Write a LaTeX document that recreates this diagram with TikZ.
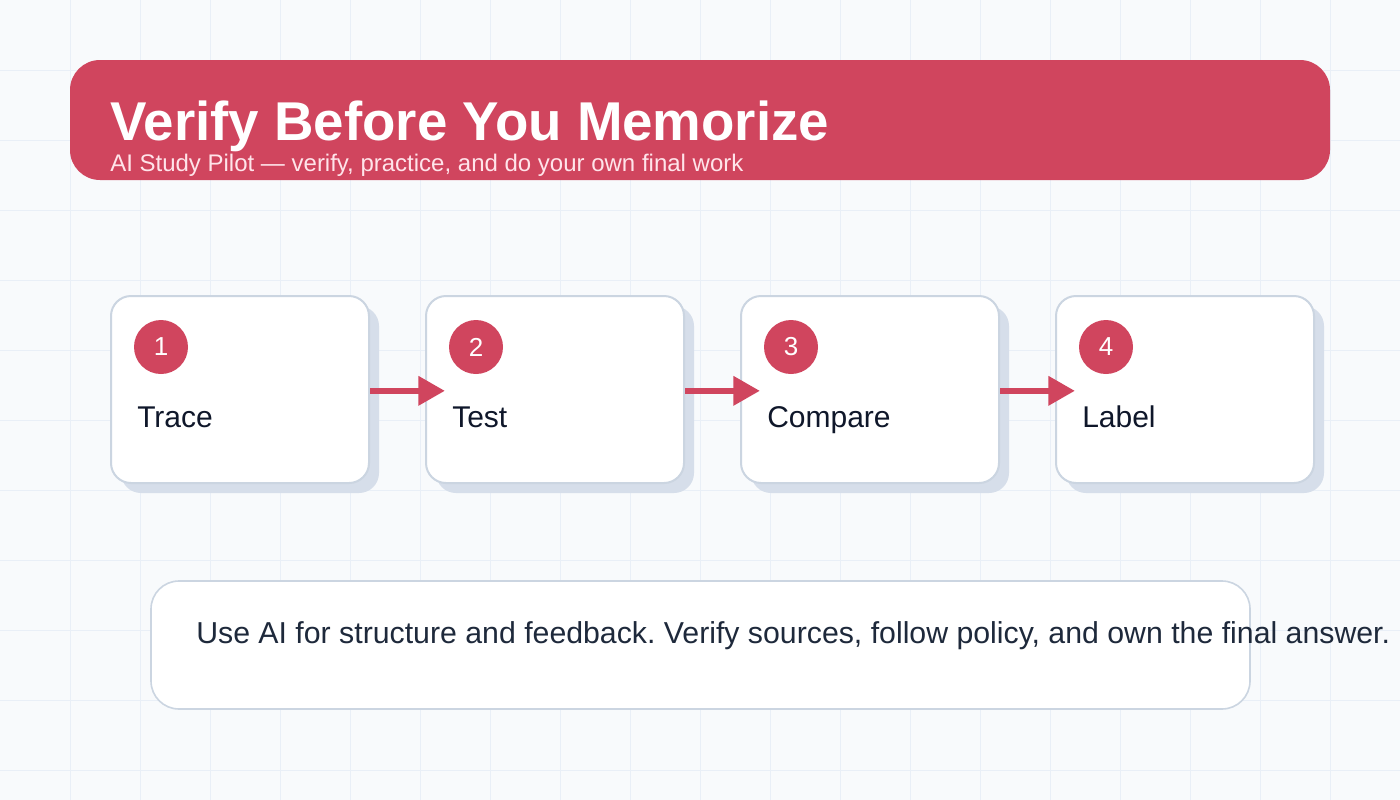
\documentclass[tikz,border=0pt]{standalone}
\usepackage{fontspec}
\usepackage{xcolor}
\usepackage{tikz}
\usetikzlibrary{arrows.meta,positioning,shadows}
\setmainfont{Liberation Sans}
\frenchspacing
\definecolor{pagebg}{RGB}{248, 250, 252}
\definecolor{gridblue}{RGB}{233, 239, 247}
\definecolor{pilotred}{RGB}{208, 69, 94}
\definecolor{subpink}{RGB}{255, 228, 234}
\definecolor{edgegray}{RGB}{203, 213, 225}
\definecolor{shadegray}{RGB}{214, 222, 234}
\definecolor{inkdark}{RGB}{15, 23, 42}
\definecolor{inkslate}{RGB}{30, 41, 59}
\tikzset{
 gridline/.style={draw=gridblue, line width=0.75pt},
 banner/.style={
 rectangle,
 rounded corners=22.5pt,
 fill=pilotred,
 minimum width=945pt,
 minimum height=90pt,
 inner sep=0pt
 },
 stepbox/.style={
 rectangle,
 rounded corners=15pt,
 draw=edgegray,
 fill=white,
 line width=1.5pt,
 minimum width=193.5pt,
 minimum height=140.25pt,
 drop shadow={shadow xshift=7.5pt, shadow yshift=-7.5pt, fill=shadegray, opacity=1}
 },
 badge/.style={
 circle,
 fill=pilotred,
 text=white,
 minimum size=40.5pt,
 inner sep=0pt,
 font=\fontsize{19.5}{22}\selectfont
 },
 steplabel/.style={
 anchor=base west,
 inner sep=0pt,
 text=inkdark,
 font=\fontsize{22.5}{26}\selectfont
 },
 notebox/.style={
 rectangle,
 rounded corners=21pt,
 draw=edgegray,
 fill=white,
 line width=1.2pt,
 minimum width=824.25pt,
 minimum height=96pt
 },
 steparrow/.style={-{Triangle[length=20pt, width=21pt]}, line width=5pt, draw=pilotred}
}
\begin{document}
\begin{tikzpicture}[x=0.75pt, y=-0.75pt, node distance=7mm and 41.25pt]
 \useasboundingbox (0,0) rectangle (1400,800);
 \fill[pagebg] (0,0) rectangle (1400,800);
 \foreach \gx in {70,140,...,1330}
 \draw[gridline] (\gx,0) -- (\gx,800);
 \foreach \gy in {70,140,...,770}
 \draw[gridline] (0,\gy) -- (1400,\gy);

 % header
 \node[banner] (head) at (700,120) {};
 \node[anchor=base west, inner sep=0pt, text=white, font=\fontsize{41}{46}\selectfont\bfseries] (title) at (110,140) {Verify Before You Memorize};
 \node[anchor=base west, inner sep=0pt, text=subpink, font=\fontsize{18}{21}\selectfont] (subtitle) at (110,171) {AI Study Pilot — verify, practice, and do your own final work};

 % steps
 \node[stepbox] (trace) at (240,389.5) {};
 \node[stepbox, right=of trace] (test) {};
 \node[stepbox, right=of test] (compare) {};
 \node[stepbox, right=of compare] (label) {};
 \node[badge] (n1) at ([xshift=38.25pt, yshift=-39pt]trace.north west) {1};
 \node[badge] (n2) at ([xshift=38.25pt, yshift=-39pt]test.north west) {2};
 \node[badge] (n3) at ([xshift=38.25pt, yshift=-39pt]compare.north west) {3};
 \node[badge] (n4) at ([xshift=38.25pt, yshift=-39pt]label.north west) {4};
 \node[steplabel] (t1) at ([xshift=20.25pt, yshift=-99pt]trace.north west) {Trace};
 \node[steplabel] (t2) at ([xshift=20.25pt, yshift=-99pt]test.north west) {Test};
 \node[steplabel] (t3) at ([xshift=20.25pt, yshift=-99pt]compare.north west) {Compare};
 \node[steplabel] (t4) at ([xshift=20.25pt, yshift=-99pt]label.north west) {Label};
 \draw[steparrow] ([yshift=-1pt]trace.east) -- ([xshift=15pt, yshift=-1pt]test.west);
 \draw[steparrow] ([yshift=-1pt]test.east) -- ([xshift=15pt, yshift=-1pt]compare.west);
 \draw[steparrow] ([yshift=-1pt]compare.east) -- ([xshift=15pt, yshift=-1pt]label.west);

 % note
 \node[notebox] (note) at (700.5,645) {};
 \node[anchor=base west, inner sep=0pt, text=inkslate, font=\fontsize{22.7}{26}\selectfont] (notetext) at (196,643) {Use AI for structure and feedback. Verify sources, follow policy, and own the final answer.};
\end{tikzpicture}
\end{document}
